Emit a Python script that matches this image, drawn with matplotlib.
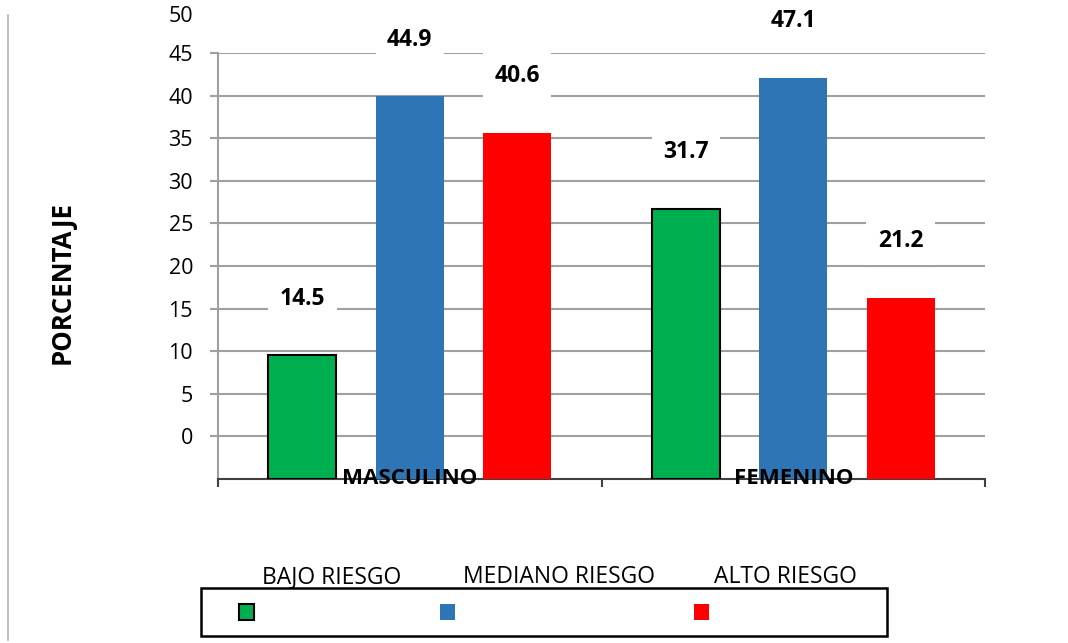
import matplotlib
matplotlib.use("Agg")
import matplotlib.pyplot as plt
from matplotlib.transforms import ScaledTranslation
from matplotlib.patches import Rectangle
from matplotlib.lines import Line2D
import numpy as np

categories = ["MASCULINO", "FEMENINO"]
series_names = ["BAJO RIESGO", "MEDIANO RIESGO", "ALTO RIESGO"]
bajo = [14.5, 31.7]
mediano = [44.9, 47.1]
alto = [40.6, 21.2]
values = [bajo, mediano, alto]
colors = ["#00B050", "#2E75B6", "#FF0000"]
ytick_labels = ["0", "5", "10", "15", "20", "25", "30", "35", "40", "45", "50"]

plt.rcParams['font.family'] = ['Open Sans', 'DejaVu Sans']
BOLD = dict(family=['Open Sans', 'DejaVu Sans'], fontweight="bold")

fig = plt.figure(figsize=(10.68, 6.43), dpi=100)
ax = fig.add_axes([218/1068, 1-479/643, (985-218)/1068, (479-53)/643])
ax.set_xlim(-0.5, 1.5)
ax.set_ylim(0, 50)

x = np.arange(len(categories))
offsets = [-0.28, 0.0, 0.28]
width = 0.177
for vals, col, off, i in zip(values, colors, offsets, range(3)):
    ec = "black" if i == 0 else "none"
    lw = 1.5 if i == 0 else 0
    ax.bar(x + off, vals, width, color=col, edgecolor=ec, linewidth=lw, zorder=3)
    for xi, v in zip(x + off, vals):
        ax.annotate(f"{v}", (xi, v), xytext=(0, 41), textcoords="offset points",
                    ha="center", va="center", fontsize=16.5, **BOLD,
                    bbox=dict(boxstyle="square,pad=0.5", fc="white", ec="none"),
                    zorder=4, annotation_clip=False)

# gridlines
ax.set_yticks(np.arange(5, 55, 5))
ax.yaxis.grid(True, color="#a0a0a0", linewidth=1.5, zorder=0)
ax.set_axisbelow(True)
ax.set_yticklabels(ytick_labels[:-1], fontsize=15.5)
off = ScaledTranslation(0, -6/100, fig.dpi_scale_trans)
for lab in ax.get_yticklabels():
    lab.set_transform(lab.get_transform() + off)
ax.tick_params(axis="y", length=6, color="#a0a0a0", width=1.5, pad=12)
ax.text(-0.5, 55, ytick_labels[-1], fontsize=15.5, ha="right", va="center",
        transform=ax.transData + ScaledTranslation(-(6 + 12)/72, -6/100, fig.dpi_scale_trans),
        clip_on=False)

ax.set_xticks([])
ax.set_xticks([-0.5, 0.5, 1.5], minor=True)
ax.tick_params(axis="x", which="minor", length=6, color="#404040", width=1.5)
for xi, c in zip(x, categories):
    ax.text(xi, 0, c, ha="center", va="center", fontsize=16, **BOLD, zorder=5)

for s in ["top", "right"]:
    ax.spines[s].set_visible(False)
ax.spines["left"].set_color("#a0a0a0")
ax.spines["left"].set_linewidth(1.5)
ax.spines["bottom"].set_color("#404040")
ax.spines["bottom"].set_linewidth(1.5)

fig.text(62/1068, 1-282/643, "PORCENTAJE", rotation=90, ha="center", va="center",
         fontsize=18.5, **BOLD)

# legend
fig.add_artist(Rectangle((201/1068, 1-636/643), (887-201)/1068, (636-588)/643,
                         transform=fig.transFigure, fc="white", ec="black", lw=1.8))
lab_x = [332, 559, 785]
mark_x = [246, 447.5, 701.5]
for name, col, lx, mx, i in zip(series_names, colors, lab_x, mark_x, range(3)):
    fig.text(lx/1068, 1-577/643, name, ha="center", va="center", fontsize=16.5)
    fig.add_artist(Rectangle(((mx-7.5)/1068, 1-620/643), 15/1068, 16/643,
                             transform=fig.transFigure, fc=col,
                             ec="black" if i == 0 else "none", lw=1.5))

fig.add_artist(Line2D([8/1068, 8/1068], [1-640/643, 1-15/643], transform=fig.transFigure,
                      color="#b0b0b0", lw=1.2))

fig.savefig("out.png", dpi=100)
